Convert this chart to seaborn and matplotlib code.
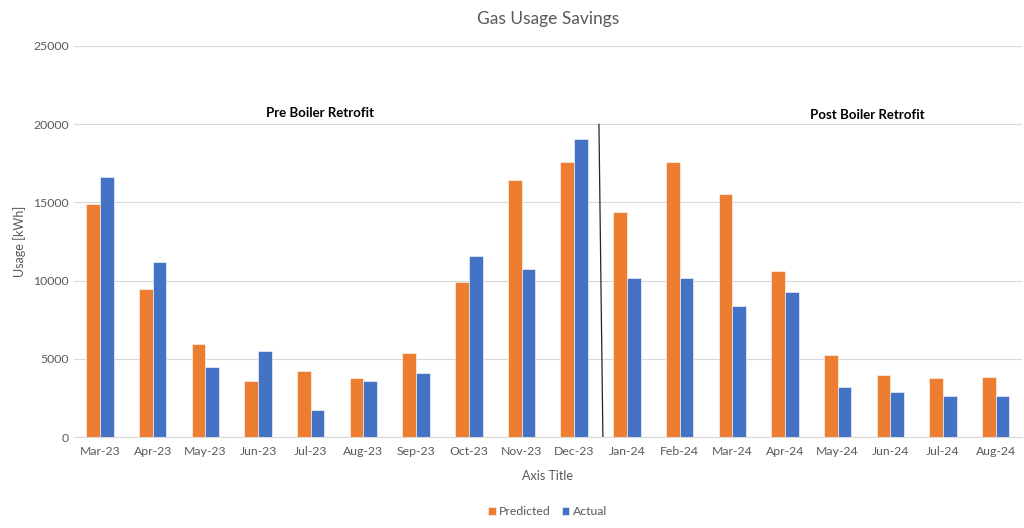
import pandas as pd
import matplotlib.pyplot as plt
import seaborn as sns

# monthly gas usage (kWh)
months = ["Mar-23", "Apr-23", "May-23", "Jun-23", "Jul-23", "Aug-23", "Sep-23",
          "Oct-23", "Nov-23", "Dec-23", "Jan-24", "Feb-24", "Mar-24", "Apr-24",
          "May-24", "Jun-24", "Jul-24", "Aug-24"]
predicted = [14900, 9440, 5950, 3600, 4260, 3800, 5410, 9910, 16450, 17600,
             14370, 17600, 15560, 10600, 5240, 3960, 3800, 3860]
actual = [16640, 11170, 4500, 5520, 1750, 3560, 4090, 11590, 10760, 19050,
          10150, 10150, 8360, 9250, 3180, 2900, 2600, 2600]

df = pd.DataFrame({
    "Month": months * 2,
    "Usage": predicted + actual,
    "Series": ["Predicted"] * len(months) + ["Actual"] * len(months),
})

sns.set_style("white")
plt.rcParams["font.family"] = ["Lato", "DejaVu Sans"]
grey = "#595959"

fig, ax = plt.subplots(figsize=(10.24, 5.28), dpi=100)
fig.subplots_adjust(left=0.072, right=0.998, top=0.913, bottom=0.172)

sns.barplot(data=df, x="Month", y="Usage", hue="Series",
            palette={"Predicted": "#ED7D31", "Actual": "#4472C4"},
            width=0.52, saturation=1, ax=ax, edgecolor="white", linewidth=0.4)

ax.set_xlim(-0.5, len(months) - 0.5)
ax.set_ylim(0, 25000)
ax.set_yticks(range(0, 25001, 5000))
ax.yaxis.grid(True, color="#D9D9D9", linewidth=0.8)
ax.set_axisbelow(True)
for s in ["top", "right", "left"]:
    ax.spines[s].set_visible(False)
ax.spines["bottom"].set_color("#D9D9D9")
ax.tick_params(axis="both", length=0, colors=grey, labelsize=8.8)
ax.tick_params(axis="x", pad=6)

ax.set_title("Gas Usage Savings", color=grey, fontsize=12.5, pad=16)
ax.set_xlabel("Axis Title", color=grey, fontsize=9, labelpad=10)
ax.set_ylabel("Usage [kWh]", color=grey, fontsize=9, labelpad=5)

# retrofit divider and section labels
ax.plot([9.47, 9.545], [20000, 0], color="#262626", linewidth=0.9)
ax.text(4.17, 20700, "Pre Boiler Retrofit", ha="center", va="center",
        fontsize=9.5, fontweight="bold", color="black")
ax.text(14.56, 20600, "Post Boiler Retrofit", ha="center", va="center",
        fontsize=9.5, fontweight="bold", color="black")

leg = ax.legend(loc="center", bbox_to_anchor=(0.5, -0.19), ncol=2,
                frameon=False, fontsize=8.8, handlelength=0.6, handleheight=0.6,
                handletextpad=0.3, columnspacing=0.9)
for t in leg.get_texts():
    t.set_color(grey)

plt.savefig("out.png", dpi=100)
